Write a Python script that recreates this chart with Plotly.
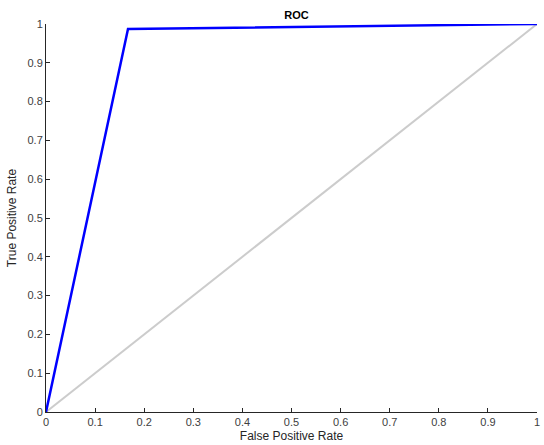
import plotly.graph_objects as go

fpr = [0.0, 0.167, 1.0]
tpr = [0.0, 0.987, 1.0]
diag_x = [0.0, 1.0]
diag_y = [0.0, 1.0]
ticks = [0, 0.1, 0.2, 0.3, 0.4, 0.5, 0.6, 0.7, 0.8, 0.9, 1]
tick_text = ["0", "0.1", "0.2", "0.3", "0.4", "0.5", "0.6", "0.7", "0.8", "0.9", "1"]

fig = go.Figure()
fig.add_trace(go.Scatter(x=diag_x, y=diag_y, mode="lines",
                         line=dict(color="#cccccc", width=2), showlegend=False))
fig.add_trace(go.Scatter(x=fpr, y=tpr, mode="lines",
                         line=dict(color="#0000ff", width=2.5), showlegend=False))

axis_common = dict(range=[0, 1], tickvals=ticks, ticktext=tick_text,
                   ticks="inside", ticklen=4, tickcolor="#262626",
                   showline=True, linecolor="#262626", linewidth=1,
                   showgrid=False, zeroline=False,
                   tickfont=dict(family="Liberation Sans, Arial", size=11, color="#404040"))

fig.update_layout(
    width=544, height=445,
    margin=dict(l=46, r=4, t=24, b=33),
    paper_bgcolor="white", plot_bgcolor="white",
    title=dict(text="<b>ROC</b>", x=0.545, xanchor="center", y=0.966, yanchor="middle",
               font=dict(family="Liberation Sans, Arial", size=11, color="#000000")),
    xaxis=dict(**axis_common,
               title=dict(text="False Positive Rate", standoff=4,
                          font=dict(family="Liberation Sans, Arial", size=12, color="#262626"))),
    yaxis=dict(**axis_common,
               title=dict(text="True Positive Rate", standoff=8,
                          font=dict(family="Liberation Sans, Arial", size=12, color="#262626"))),
)

fig.write_html("out.html")
